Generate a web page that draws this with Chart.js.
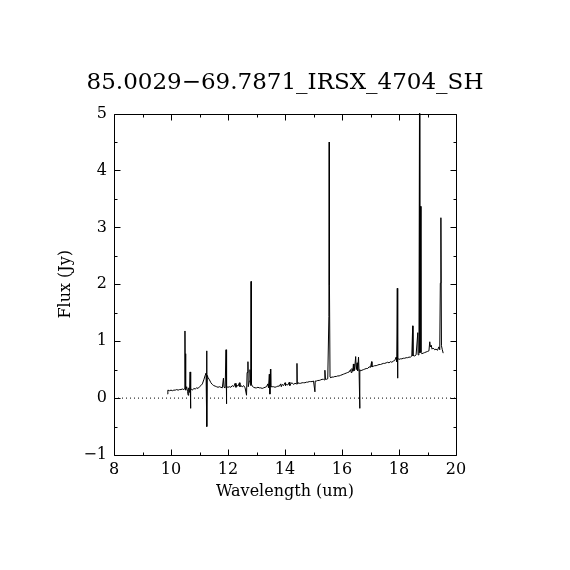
<!DOCTYPE html>
<html>
<head>
<meta charset="utf-8">
<script src="https://cdn.jsdelivr.net/npm/chart.js@4"></script>
<style>
  body { margin: 0; background: #fff; }
  #wrap { width: 570px; height: 570px; }
</style>
</head>
<body>
<div id="wrap"><canvas id="specChart" width="570" height="570"></canvas></div>
<script>
// spectrum (wavelength in um, flux in Jy)
const waveUm = [
  9.88, 9.89, 9.95, 10.00, 10.05, 10.10, 10.15, 10.20, 10.25, 10.30,
  10.35, 10.40, 10.45, 10.48, 10.49, 10.50, 10.51, 10.52, 10.55, 10.58,
  10.60, 10.62, 10.65, 10.67, 10.68, 10.70, 10.75, 10.80, 10.85, 10.90,
  10.95, 11.00, 11.05, 11.10, 11.15, 11.20, 11.23, 11.25, 11.26, 11.27,
  11.30, 11.35, 11.40, 11.45, 11.50, 11.55, 11.60, 11.65, 11.70, 11.75,
  11.80, 11.84, 11.86, 11.90, 11.93, 11.94, 11.96, 12.00, 12.05, 12.10,
  12.15, 12.20, 12.25, 12.28, 12.30, 12.35, 12.40, 12.42, 12.45, 12.50,
  12.55, 12.60, 12.65, 12.67, 12.70, 12.71, 12.75, 12.77, 12.80, 12.81,
  12.82, 12.85, 12.90, 12.95, 13.00, 13.05, 13.10, 13.15, 13.20, 13.25,
  13.30, 13.35, 13.40, 13.42, 13.45, 13.47, 13.49, 13.50, 13.55, 13.60,
  13.65, 13.70, 13.75, 13.80, 13.85, 13.87, 13.90, 13.95, 14.00, 14.02,
  14.05, 14.10, 14.15, 14.17, 14.20, 14.25, 14.30, 14.35, 14.40, 14.42,
  14.43, 14.45, 14.50, 14.55, 14.60, 14.65, 14.70, 14.75, 14.80, 14.85,
  14.90, 14.95, 15.00, 15.05, 15.06, 15.10, 15.15, 15.20, 15.25, 15.30,
  15.35, 15.38, 15.40, 15.42, 15.45, 15.50, 15.54, 15.55, 15.56, 15.58,
  15.60, 15.65, 15.70, 15.75, 15.80, 15.85, 15.90, 15.95, 16.00, 16.05,
  16.10, 16.15, 16.20, 16.25, 16.30, 16.32, 16.35, 16.38, 16.40, 16.42,
  16.45, 16.48, 16.50, 16.53, 16.55, 16.58, 16.60, 16.62, 16.63, 16.65,
  16.70, 16.75, 16.80, 16.85, 16.90, 16.95, 17.00, 17.04, 17.05, 17.10,
  17.15, 17.20, 17.25, 17.30, 17.35, 17.40, 17.45, 17.50, 17.55, 17.60,
  17.65, 17.70, 17.75, 17.80, 17.85, 17.90, 17.92, 17.94, 17.95, 17.96,
  18.00, 18.05, 18.10, 18.15, 18.20, 18.25, 18.30, 18.35, 18.40, 18.45,
  18.48, 18.49, 18.52, 18.55, 18.60, 18.66, 18.67, 18.70, 18.72, 18.73,
  18.76, 18.77, 18.80, 18.85, 18.90, 18.95, 19.00, 19.05, 19.08, 19.10,
  19.13, 19.16, 19.20, 19.25, 19.30, 19.35, 19.40, 19.43, 19.45, 19.47,
  19.49, 19.52, 19.55
];
const fluxJy = [
  0.07, 0.14, 0.13, 0.14, 0.13, 0.14, 0.14, 0.15, 0.14, 0.15,
  0.15, 0.16, 0.15, 0.17, 1.18, 0.15, 0.78, 0.14, 0.20, 0.12,
  0.05, 0.18, 0.10, 0.46, -0.18, 0.17, 0.14, 0.17, 0.16, 0.18,
  0.17, 0.20, 0.22, 0.25, 0.32, 0.40, 0.44, 0.83, -0.50, 0.40,
  0.36, 0.32, 0.27, 0.24, 0.22, 0.21, 0.20, 0.19, 0.20, 0.19,
  0.18, 0.35, 0.19, 0.18, 0.85, -0.10, 0.20, 0.19, 0.20, 0.19,
  0.22, 0.20, 0.26, 0.19, 0.23, 0.21, 0.27, 0.20, 0.22, 0.20,
  0.22, 0.18, 0.05, 0.45, 0.64, 0.20, 0.30, 0.50, 0.22, 2.05,
  0.25, 0.21, 0.19, 0.18, 0.18, 0.19, 0.18, 0.18, 0.17, 0.18,
  0.19, 0.20, 0.25, 0.18, 0.42, 0.07, 0.51, 0.20, 0.20, 0.20,
  0.19, 0.20, 0.21, 0.21, 0.25, 0.20, 0.24, 0.22, 0.27, 0.22,
  0.24, 0.23, 0.28, 0.22, 0.25, 0.27, 0.24, 0.26, 0.25, 0.61,
  0.25, 0.27, 0.26, 0.26, 0.27, 0.27, 0.27, 0.28, 0.28, 0.29,
  0.29, 0.29, 0.30, 0.11, 0.30, 0.30, 0.31, 0.31, 0.32, 0.33,
  0.33, 0.32, 0.49, 0.33, 0.33, 0.34, 1.43, 4.50, 1.98, 0.37,
  0.36, 0.37, 0.37, 0.38, 0.38, 0.39, 0.39, 0.40, 0.41, 0.42,
  0.43, 0.44, 0.45, 0.46, 0.50, 0.45, 0.52, 0.47, 0.60, 0.48,
  0.55, 0.73, 0.50, 0.62, 0.48, 0.72, 0.45, -0.18, 0.50, 0.48,
  0.49, 0.50, 0.51, 0.52, 0.52, 0.55, 0.54, 0.64, 0.55, 0.56,
  0.57, 0.57, 0.58, 0.59, 0.59, 0.60, 0.61, 0.61, 0.62, 0.63,
  0.62, 0.64, 0.63, 0.65, 0.66, 0.72, 0.64, 1.93, 0.35, 0.70,
  0.68, 0.69, 0.69, 0.70, 0.70, 0.71, 0.71, 0.72, 0.72, 0.74,
  1.27, 0.74, 0.75, 0.74, 0.76, 1.15, 0.76, 0.78, 5.30, 0.80,
  3.37, 0.80, 0.78, 0.79, 0.80, 0.81, 0.82, 0.83, 0.99, 0.90,
  0.93, 0.86, 0.88, 0.85, 0.86, 0.84, 0.90, 0.85, 2.02, 3.17,
  0.92, 0.85, 0.79
];

// dotted zero level
const zeroX = [8, 20];
const zeroY = [0, 0];

// axis ticks
const xTicks = [8, 10, 12, 14, 16, 18, 20];
const xTickLabels = ['8', '10', '12', '14', '16', '18', '20'];
const xMinorTicks = [9, 11, 13, 15, 17, 19];
const yTicks = [-1, 0, 1, 2, 3, 4, 5];
const yTickLabels = ['\u22121', '0', '1', '2', '3', '4', '5'];
const yMinorTicks = [-0.5, 0.5, 1.5, 2.5, 3.5, 4.5];

const serif = 'DejaVu Serif';

// frame with inward ticks on all four sides
const framePlugin = {
    id: 'frame',
    afterDatasetsDraw(chart) {
        const ctx = chart.ctx;
        const a = chart.chartArea;
        const xs = chart.scales.x;
        const ys = chart.scales.y;
        const L = Math.round(a.left) + 0.5, R = Math.round(a.right) + 0.5;
        const T = Math.round(a.top) + 0.5, B = Math.round(a.bottom) + 0.5;
        ctx.save();
        ctx.strokeStyle = '#000';
        ctx.lineWidth = 1;
        ctx.beginPath();
        ctx.rect(L, T, R - L, B - T);
        const xTick = (v, len) => {
            const px = Math.round(xs.getPixelForValue(v)) + 0.5;
            ctx.moveTo(px, B); ctx.lineTo(px, B - len);
            ctx.moveTo(px, T); ctx.lineTo(px, T + len);
        };
        const yTick = (v, len) => {
            const py = Math.round(ys.getPixelForValue(v)) + 0.5;
            ctx.moveTo(L, py); ctx.lineTo(L + len, py);
            ctx.moveTo(R, py); ctx.lineTo(R - len, py);
        };
        xTicks.forEach(v => xTick(v, 6));
        xMinorTicks.forEach(v => xTick(v, 3));
        yTicks.forEach(v => yTick(v, 6));
        yMinorTicks.forEach(v => yTick(v, 3));
        ctx.stroke();
        ctx.restore();
    }
};

const ctx = document.getElementById('specChart').getContext('2d');

const specChart = new Chart(ctx, {
    type: 'line',
    data: {
        datasets: [{
            label: 'zero',
            data: zeroX.map((x, i) => ({ x: x, y: zeroY[i] })),
            borderColor: '#000',
            borderWidth: 1,
            borderDash: [1, 3],
            pointRadius: 0
        }, {
            label: 'spectrum',
            data: waveUm.map((w, i) => ({ x: w, y: fluxJy[i] })),
            borderColor: '#000',
            borderWidth: 1,
            pointRadius: 0,
            tension: 0
        }]
    },
    options: {
        responsive: false,
        animation: false,
        layout: {
            padding: 0
        },
        scales: {
            x: {
                type: 'linear',
                min: 8,
                max: 20,
                afterFit: function(scale) { scale.height = 115; },
                afterBuildTicks: function(scale) {
                    scale.ticks = xTicks.map(v => ({ value: v }));
                },
                grid: { display: false, drawTicks: false },
                border: { display: false },
                ticks: {
                    padding: 5,
                    color: '#000',
                    font: { family: serif, size: 16 },
                    maxRotation: 0,
                    callback: function(value) {
                        const i = xTicks.indexOf(value);
                        return i >= 0 ? xTickLabels[i] : '';
                    }
                },
                title: {
                    display: true,
                    text: 'Wavelength (um)',
                    color: '#000',
                    font: { family: serif, size: 16 },
                    padding: { top: 0, bottom: 69 }
                }
            },
            y: {
                type: 'linear',
                min: -1,
                max: 5,
                afterFit: function(scale) { scale.width = 114; },
                afterBuildTicks: function(scale) {
                    scale.ticks = yTicks.map(v => ({ value: v }));
                },
                grid: { display: false, drawTicks: false },
                border: { display: false },
                ticks: {
                    padding: 7,
                    color: '#000',
                    font: { family: serif, size: 16 },
                    callback: function(value) {
                        const i = yTicks.indexOf(value);
                        return i >= 0 ? yTickLabels[i] : '';
                    }
                },
                title: {
                    display: true,
                    text: 'Flux (Jy)',
                    color: '#000',
                    font: { family: serif, size: 16 },
                    padding: { top: 56, bottom: 0 }
                }
            },
            // empty right-hand box to keep the plot and title centred
            yRight: {
                type: 'linear',
                position: 'right',
                min: -1,
                max: 5,
                afterFit: function(scale) { scale.width = 114; },
                grid: { display: false, drawTicks: false },
                border: { display: false },
                ticks: { display: false }
            }
        },
        plugins: {
            legend: { display: false },
            tooltip: { enabled: false },
            title: {
                display: true,
                text: '85.0029\u221269.7871_IRSX_4704_SH',
                color: '#000',
                font: { family: serif, size: 23, weight: 'normal' },
                padding: { top: 69, bottom: 17 }
            }
        }
    },
    plugins: [framePlugin]
});
</script>
</body>
</html>
